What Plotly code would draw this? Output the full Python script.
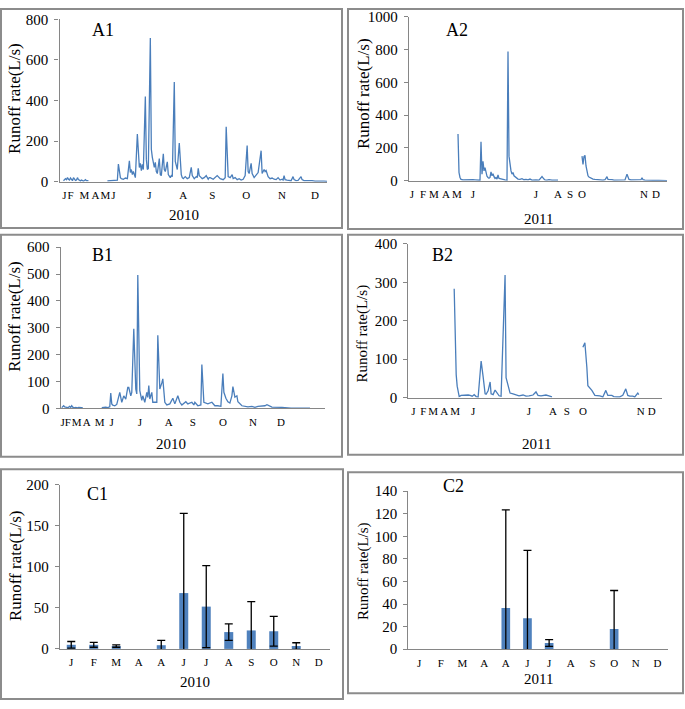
import plotly.graph_objects as go

W, H = 685, 709
FONT = "Liberation Serif"
LINE_C = "#4A7EBB"
BAR_C = "#4F81BD"
AX_C = "#868686"

# ---------------- data ----------------
months_a1 = ["J", "F", "M", "A", "M", "J", "J", "A", "S", "O", "N", "D"]
a1_tickpos = [5, 11, 25, 36, 46, 54, 90, 124, 153, 187, 223, 256]
a1_day = [4, 5, 6, 7, 8, 9, 10, 11, 12, 13, 14, 15, 16, 17, 18, 19, 20, 21, 22, 23, 24, 25, 26, 27, 28, 29,
          30,
          48, 50, 52, 54, 56, 58, 59, 60, 61, 62, 64, 66, 68, 70, 71, 72, 73, 74, 75, 76, 78, 79, 80, 81, 82,
          83, 84, 86, 87, 88, 89, 91, 92, 93, 94, 95, 96, 97, 98, 100, 101, 102, 104, 105, 106, 108, 109, 110,
          111, 112, 113, 115, 116, 117, 118, 120, 121, 122, 123, 124, 126, 128, 130, 132, 133, 134, 135, 137,
          138, 139, 140, 141, 143, 145, 147, 149, 150, 151, 154, 158, 161, 164, 166, 167, 169, 171, 172, 173,
          174, 176, 178, 180, 182, 184, 186, 188, 189, 190, 192, 193, 195, 197, 199, 202, 203, 205, 206, 207,
          209, 211, 213, 215, 217, 219, 221, 223, 224, 225, 226, 228, 230, 232, 234, 235, 237, 239, 242, 243,
          245, 248, 250, 253, 256, 259, 262, 265, 268]
a1_val = [5, 8, 15, 10, 20, 12, 8, 18, 10, 5, 20, 12, 6, 8, 20, 10, 5, 4, 8, 5, 3, 6, 10, 5, 4, 5,
          None,
          4, 5, 3, 6, 5, 8, 87, 40, 20, 15, 12, 18, 15, 103, 45, 60, 35, 50, 30, 20, 235, 110, 70, 90, 55,
          85, 60, 420, 110, 60, 65, 708, 160, 120, 80, 70, 95, 50, 40, 114, 35, 30, 138, 60, 50, 98, 35, 25,
          20, 30, 25, 492, 100, 80, 60, 191, 80, 35, 20, 15, 25, 15, 20, 71, 30, 20, 15, 25,
          20, 66, 30, 25, 15, 20, 30, 12, 20, 20, 12, 30, 15, 10, 20, 271, 25, 20, 25, 35,
          15, 20, 10, 15, 8, 12, 30, 178, 50, 40, 90, 40, 20, 30, 45, 153, 40, 60, 50, 55,
          25, 15, 18, 12, 10, 20, 8, 12, 8, 30, 10, 8, 6, 5, 25, 10, 5, 6, 25, 10,
          5, 6, 4, 5, 3, 4, 2, 3, 2]

a2_tickpos = [3, 14, 25, 37, 48, 64, 127, 149, 161, 173, 235, 247]
months_a2 = ["J", "F", "M", "A", "M", "J", "J", "A", "S", "O", "N", "D"]
a2_day = [49, 50, 51, 52, 54, 56, 58, 60, 62, 64, 66, 68, 70, 71, 72, 73, 74, 75, 76, 77, 78, 79, 80, 81,
          82, 83, 84, 85, 86, 87, 88, 89, 90, 91, 92, 94, 96, 98, 99, 100, 101, 102, 103, 104, 105, 106,
          107, 109, 111, 113, 115, 117, 119, 121, 123, 125, 127, 130, 133, 135, 136, 138, 140, 143, 146, 149,
          150,
          173, 174, 175, 176, 177, 178, 179, 180, 182, 184, 186, 188, 190, 192, 194, 196, 198, 199, 201, 203,
          205, 208, 211, 214, 216, 218, 219, 220, 222, 225, 228, 230, 232, 233, 234, 236, 240, 245, 250, 255,
          258]
a2_val = [285, 50, 20, 8, 5, 6, 5, 7, 5, 6, 5, 4, 6, 3, 238, 40, 119, 60, 80, 40, 27, 20, 15, 20,
          54, 30, 43, 25, 14, 20, 10, 36, 14, 12, 10, 8, 5, 3, 789, 150, 80, 60, 40, 50, 30, 25,
          20, 10, 8, 12, 6, 8, 5, 10, 4, 6, 5, 4, 25, 10, 5, 4, 6, 3, 3, 3,
          None,
          150, 100, 148, 155, 90, 50, 30, 22, 15, 10, 8, 6, 5, 6, 4, 6, 25, 8, 5, 6,
          4, 3, 5, 3, 5, 40, 15, 8, 5, 4, 5, 3, 6, 18, 6, 4, 2, 2, 2, 2,
          1]

b1_tickpos = [2, 7, 16, 26, 39, 51, 79, 108, 132, 162, 192, 220]
months_b1 = ["J", "F", "M", "A", "M", "J", "J", "A", "S", "O", "N", "D"]
b1_day = [1, 2, 3, 4, 5, 6, 7, 8, 9, 10, 11, 12, 13, 14, 15, 16, 17, 18, 19, 20, 21, 22,
          23,
          41, 43, 45, 47, 49, 50, 51, 52, 54, 56, 57, 59, 61, 63, 65, 67, 68, 70, 71, 73, 75, 76, 77, 79,
          81, 82, 84, 86, 87, 88, 89, 91, 92, 94, 96, 97, 99, 101, 102, 104, 106, 109, 112, 114, 117, 119,
          121, 125, 127, 131, 133, 134, 137, 140, 141, 143, 147, 151, 154, 157, 160, 162, 163, 165, 167,
          169, 171, 172, 174, 176, 177, 181, 184, 187, 191, 194, 197, 201, 204, 206, 211, 221, 230, 240,
          249]
b1_val = [3, 5, 10, 6, 4, 5, 3, 5, 8, 4, 10, 5, 3, 2, 4, 3, 2, 4, 3, 2, 3, 3,
          None,
          3, 4, 5, 3, 6, 57, 17, 12, 10, 15, 30, 60, 23, 47, 35, 78, 78, 47, 60, 296, 72, 54, 496, 66,
          30, 47, 23, 60, 41, 85, 35, 60, 23, 23, 23, 272, 72, 95, 110, 23, 13, 17, 38, 17, 47, 23,
          13, 25, 17, 23, 13, 23, 10, 13, 163, 23, 17, 23, 10, 10, 8, 130, 60, 38, 25, 20,
          47, 81, 42, 47, 25, 10, 8, 6, 8, 4, 8, 8, 10, 14, 5, 4, 1, 1, 1,
          1]

b2_tickpos = [5, 15, 25, 36, 47, 65, 121, 145, 159, 175, 233, 244]
months_b2 = ["J", "F", "M", "A", "M", "J", "J", "A", "S", "O", "N", "D"]
b2_day = [46, 47, 48, 49, 50, 51, 53, 56, 60, 62, 64, 65, 66, 68, 70, 73, 74, 75, 77, 78, 80, 82, 83, 85,
          87, 89, 91, 93, 97, 98, 100, 102, 105, 108, 111, 115, 118, 121, 125, 128, 130, 133, 138, 141, 144,
          145,
          175, 177, 179, 180, 184, 187, 192, 195, 198, 200, 204, 206, 209, 212, 215, 218, 220, 222, 225, 227,
          230, 231]
b2_val = [283, 150, 60, 30, 10, 3, 6, 7, 7, 6, 4, 6, 8, 3, 2, 95, 78, 55, 10, 9, 18, 41, 10, 8,
          20, 12, 5, 4, 319, 52, 30, 12, 10, 8, 5, 7, 4, 5, 7, 15, 6, 5, 7, 5, 2,
          None,
          131, 143, 78, 31, 19, 6, 5, 2, 19, 6, 6, 3, 2, 2, 6, 23, 6, 4, 4, 2,
          12, 8]

months_c = ["J", "F", "M", "A", "A", "J", "J", "A", "S", "O", "N", "D"]
c1_mean = [5, 5, 3.5, None, 4.5, 68, 51.5, 20.5, 22.5, 21.5, 3.5, None]
c1_err = [4, 3, 1.5, None, 6, 97, 50, 10, 35, 18, 4, None]
c2_mean = [None, None, None, None, 36.5, 27.5, 5.5, None, None, 18, None, None]
c2_err = [None, None, None, None, 87, 60, 3, None, None, 34, None, None]

# ---------------- layout geometry (pixels) ----------------
panels = {
    "A1": (59.5, 327, 11.7, 177.7),
    "A2": (409, 667, 9, 176.7),
    "B1": (60.7, 325, 244.7, 409.7),
    "B2": (408.3, 661.7, 241.3, 398.7),
    "C1": (60, 330, 487.7, 655.7),
    "C2": (408.3, 668.3, 494.3, 656),
}
boxes = [(1, 342, 1, 225), (348, 683, 1, 226), (1, 342, 232, 459), (348, 683, 232, 457),
         (1, 343, 472, 707), (348, 683, 475, 701)]


def dx(p):
    return p / W


def dy(p):
    return 1 - p / H


fig = go.Figure()

for xs, ys, ax in [(a1_day, a1_val, ""), (a2_day, a2_val, "2"), (b1_day, b1_val, "3"), (b2_day, b2_val, "4")]:
    fig.add_trace(go.Scatter(x=xs, y=ys, mode="lines", line=dict(color=LINE_C, width=1.3),
                             xaxis="x" + ax, yaxis="y" + ax, connectgaps=False, showlegend=False,
                             hoverinfo="skip"))

for ys, es, ax in [(c1_mean, c1_err, "5"), (c2_mean, c2_err, "6")]:
    fig.add_trace(go.Bar(x=list(range(12)), y=ys, marker=dict(color=BAR_C, line=dict(width=0)),
                         error_y=dict(type="data", array=es, arrayminus=es, color="black",
                                      thickness=1.3, width=4),
                         xaxis="x" + ax, yaxis="y" + ax, showlegend=False))

axis_font = dict(family=FONT, size=15, color="black")
month_font = dict(family=FONT, size=11, color="black")

names = ["A1", "A2", "B1", "B2", "C1", "C2"]
yranges = [[0, 800], [0, 1000], [0, 600], [0, 400], [0, 200], [0, 140]]
ydticks = [200, 200, 100, 100, 50, 20]
xranges = [[0, 268], [0, 258], [0, 264], [0, 254], [-0.5, 11.5], [-0.5, 11.5]]
xtickvals = [a1_tickpos, a2_tickpos, b1_tickpos, b2_tickpos, list(range(12)), list(range(12))]
xticktext = [months_a1, months_a2, months_b1, months_b2, months_c, months_c]

layout = dict(width=W, height=H, margin=dict(l=0, r=0, t=0, b=0),
              paper_bgcolor="white", plot_bgcolor="white", bargap=0.6,
              font=dict(family=FONT, color="black"))
for i, n in enumerate(names):
    xl, xr, yt, yb = panels[n]
    sfx = "" if i == 0 else str(i + 1)
    layout["xaxis" + sfx] = dict(domain=[dx(xl), dx(xr)], range=xranges[i], anchor="y" + sfx,
                                 showline=True, linecolor=AX_C, linewidth=1.3, showgrid=False,
                                 zeroline=False, tickmode="array", tickvals=xtickvals[i],
                                 ticktext=xticktext[i], ticks="", tickfont=month_font, tickangle=0,
                                 ticklabelstandoff=3, fixedrange=True)
    layout["yaxis" + sfx] = dict(domain=[dy(yb), dy(yt)], range=yranges[i], anchor="x" + sfx,
                                 showline=True, linecolor=AX_C, linewidth=1.3, showgrid=False,
                                 zeroline=False, dtick=ydticks[i], tick0=0, ticks="outside",
                                 ticklen=4, tickcolor=AX_C, tickfont=axis_font,
                                 ticklabelstandoff=3, fixedrange=True)

shapes = []
for (x0, x1, y0, y1) in boxes:
    shapes.append(dict(type="rect", xref="paper", yref="paper", x0=dx(x0), x1=dx(x1),
                       y0=dy(y1), y1=dy(y0), line=dict(color="#8C8C8C", width=2)))
layout["shapes"] = shapes

ann = []
label_pos = {"A1": (103, 23), "A2": (457, 23), "B1": (102, 253), "B2": (442, 253),
             "C1": (98, 497), "C2": (453, 489)}
for n, (px, py) in label_pos.items():
    ann.append(dict(text=n, x=dx(px), y=dy(py), xref="paper", yref="paper", showarrow=False,
                    font=dict(family=FONT, size=18, color="black"), xanchor="center", yanchor="middle"))
year_pos = [("2010", 184, 212), ("2011", 538, 216), ("2010", 171, 446), ("2011", 536, 446),
            ("2010", 195, 690), ("2011", 538, 687)]
for t, px, py in year_pos:
    ann.append(dict(text=t, x=dx(px), y=dy(py), xref="paper", yref="paper", showarrow=False,
                    font=dict(family=FONT, size=15, color="black"), xanchor="center", yanchor="middle"))
ytitle_pos = [(15, 93, 17), (363, 88, 17), (15, 316, 17), (362, 333, 15), (15, 571, 17), (363, 576, 15)]
for px, py, fs in ytitle_pos:
    ann.append(dict(text="Runoff rate(L/s)", x=dx(px), y=dy(py), xref="paper", yref="paper",
                    showarrow=False, textangle=-90,
                    font=dict(family=FONT, size=fs, color="black"), xanchor="center", yanchor="middle"))
layout["annotations"] = ann

fig.update_layout(**layout)
fig.write_html("out.html", config={"displayModeBar": False},
               post_script="document.body.style.margin='0';document.body.style.overflow='hidden';")
